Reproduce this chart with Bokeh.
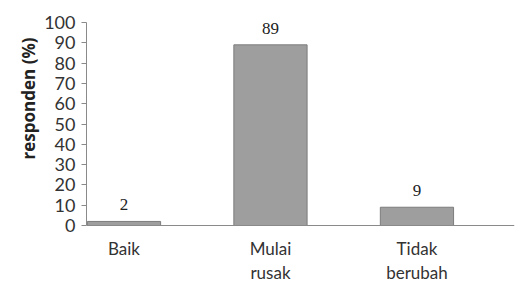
from bokeh.plotting import figure
from bokeh.models import Range1d, FixedTicker, ColumnDataSource, LabelSet, Title, Span
from bokeh.core.properties import value
from bokeh.embed import file_html
from bokeh.resources import INLINE

categories = ["Baik", "Mulai\nrusak", "Tidak\nberubah"]
values = [2, 89, 9]
y_ticks = [0, 10, 20, 30, 40, 50, 60, 70, 80, 90, 100]

xs = list(range(len(categories)))
src = ColumnDataSource(dict(x=xs, top=values, lab=[str(v) for v in values],
                            cat=categories, zero=[0] * len(xs)))

FONT = "Lato"
p = figure(width=516, height=284, output_backend="svg", toolbar_location=None,
           x_range=Range1d(-0.256, 2.666), y_range=Range1d(-29.06, 100),
           min_border_left=86, min_border_right=2, min_border_top=22, min_border_bottom=0)
p.outline_line_color = None
p.grid.visible = False
p.xaxis.visible = False
p.background_fill_color = "white"
p.border_fill_color = "white"

p.vbar(x="x", top="top", width=0.5, bottom=0, source=src,
       fill_color="#9e9e9e", line_color="#7c7c7c", line_width=1)

p.add_layout(Span(location=0, dimension="width", line_color="#8a8a8a", line_width=1))

labels = LabelSet(x="x", y="top", text="lab", source=src, text_align="center",
                  text_baseline="bottom", y_offset=11, text_font=FONT,
                  text_font_size="17px", text_color="#222222")
p.add_layout(labels)

p.text(x="x", y="zero", text="cat", source=src, text_align="center",
       text_baseline="top", y_offset=12, text_font=value(FONT),
       text_font_size="17px", text_color="#333333", text_line_height=1.15)

ya = p.yaxis[0]
ya.ticker = FixedTicker(ticks=y_ticks)
ya.bounds = (0, 100)
ya.axis_line_color = "#8a8a8a"
ya.major_tick_line_color = "#8a8a8a"
ya.major_tick_out = 5
ya.major_tick_in = 0
ya.minor_tick_line_color = None
ya.major_label_text_font = FONT
ya.major_label_text_font_size = "18px"
ya.major_label_text_color = "#333333"
ya.major_label_standoff = 6

ytitle = Title(text="responden (%)", align="right", offset=15, text_font="Open Sans",
               text_font_size="17px", text_font_style="bold", text_color="#222222",
               standoff=4)
p.add_layout(ytitle, "left")

open("out.html", "w").write(file_html(p, INLINE))
